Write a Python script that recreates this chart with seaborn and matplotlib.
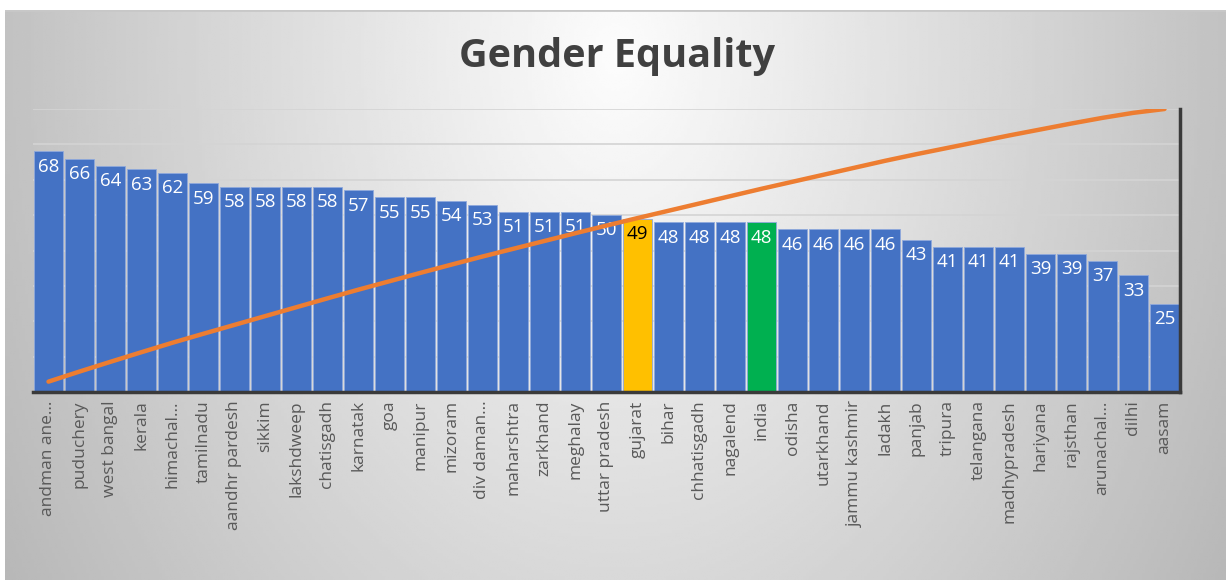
import numpy as np
import pandas as pd
import seaborn as sns
import matplotlib.pyplot as plt

# data
states = ["andman ane…", "puduchery", "west bangal", "kerala", "himachal…",
          "tamilnadu", "aandhr pardesh", "sikkim", "lakshdweep", "chatisgadh",
          "karnatak", "goa", "manipur", "mizoram", "div daman…",
          "maharshtra", "zarkhand", "meghalay", "uttar pradesh", "gujarat",
          "bihar", "chhatisgadh", "nagalend", "india", "odisha",
          "utarkhand", "jammu kashmir", "ladakh", "panjab", "tripura",
          "telangana", "madhypradesh", "hariyana", "rajsthan", "arunachal…",
          "dilhi", "aasam"]
scores = [68, 66, 64, 63, 62, 59, 58, 58, 58, 58, 57, 55, 55, 54, 53,
          51, 51, 51, 50, 49, 48, 48, 48, 48, 46, 46, 46, 46, 43, 41,
          41, 41, 39, 39, 37, 33, 25]
highlight = {"gujarat": "#FFC000", "india": "#00B050"}

df = pd.DataFrame({"state": states, "score": scores})
df["cum_pct"] = df["score"].cumsum() / df["score"].sum()
df["pos"] = range(len(df))

blue = "#4472C4"
colors = [highlight.get(s, blue) for s in states]

sns.set_theme(style="white")
plt.rcParams["font.family"] = ["Open Sans", "DejaVu Sans"]

W, H = 1226, 583
fig = plt.figure(figsize=(W / 100, H / 100), dpi=100)
fig.patch.set_facecolor("white")

# ------------------------ background gradient ------------------------
bg = fig.add_axes([5 / W, 3 / H, 1221 / W, 570 / H])
gx, gy = np.meshgrid(np.linspace(0, 1, 400), np.linspace(0, 1, 200))
r = np.sqrt(((gx - 0.5) / 0.5) ** 2 + ((gy - 0.08) / 1.5) ** 2)
shade = np.clip(0.99 - 0.23 * r, 0, 1)
bg.imshow(shade, cmap="gray", vmin=0, vmax=1, aspect="auto", extent=[0, 1, 0, 1], origin="upper")
bg.axhline(1, color="#c8c8c8", lw=2)
bg.set_axis_off()

# ------------------------ bars ------------------------
ax = fig.add_axes([33 / W, (H - 392) / H, (1180 - 33) / W, (392 - 109) / H])
ax.set_facecolor("none")
sns.barplot(data=df, x="state", y="score", hue="state", palette=colors,
            legend=False, width=0.94, saturation=1, edgecolor="#8fa9dc",
            linewidth=0.6, ax=ax, zorder=2)
ax.set_xlim(-0.5, len(df) - 0.5)
ax.set_ylim(0, 80)
ax.set_yticks(range(10, 81, 10))
ax.yaxis.grid(True, color="#d4d4d4", lw=1.2, zorder=0)
ax.set_axisbelow(True)
ax.tick_params(axis="y", which="both", left=False, right=False, length=0, labelleft=False)
ax.tick_params(axis="x", bottom=False, length=0, pad=6, labelsize=12.5, labelcolor="#595959",
               labelrotation=90)
ax.set_xlabel("")
ax.set_ylabel("")
for side in ["left", "top", "right"]:
    ax.spines[side].set_visible(False)
ax.spines["bottom"].set_color("#3a3a3a")
ax.spines["bottom"].set_linewidth(2.5)

for i, v in enumerate(scores):
    c = "black" if states[i] == "gujarat" else "white"
    ax.text(i, v - 1.8, str(v), ha="center", va="top", fontsize=13.5, color=c, zorder=5)

# ------------------------ cumulative line ------------------------
ax2 = ax.twinx()
sns.lineplot(data=df, x="pos", y="cum_pct", color="#ED7D31", lw=3.2, ax=ax2, zorder=3)
ax2.set_ylim(0, 1)
ax2.set_xlim(-0.5, len(df) - 0.5)
ax2.tick_params(axis="both", which="both", left=False, right=False, bottom=False,
                length=0, labelright=False, labelleft=False)
ax2.set_ylabel("")
ax2.set_xlabel("")
for side in ["left", "top", "bottom"]:
    ax2.spines[side].set_visible(False)
ax2.spines["right"].set_color("#3a3a3a")
ax2.spines["right"].set_linewidth(2.5)

fig.text(0.503, 1 - 56 / H, "Gender Equality", ha="center", va="center",
         fontsize=28.5, fontweight="bold", color="#404040")

plt.savefig("out.png", dpi=100)
plt.close(fig)
